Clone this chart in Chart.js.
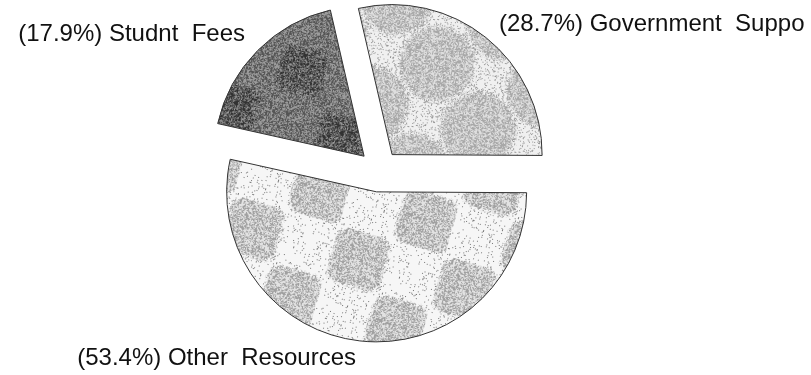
<!DOCTYPE html>
<html>
<head>
<meta charset="utf-8">
<script src="https://cdn.jsdelivr.net/npm/chart.js@4.4.1/dist/chart.umd.min.js"></script>
<style>
  html, body { margin: 0; padding: 0; background: #fff; }
  #wrap { position: relative; width: 811px; height: 375px; }
</style>
</head>
<body>
<div id="wrap"><canvas id="pie"></canvas></div>
<script>
// values
const categories = ['Government  Support', 'Other  Resources', 'Studnt  Fees'];
const shares = [28.7, 53.4, 17.9];

// where each label sits (baseline) - layout only
const labelSpots = [
  { x: 499, y: 31, align: 'left' },
  { x: 356, y: 365, align: 'right' },
  { x: 245, y: 41, align: 'right' }
];
const explode = 21; // px each slice is pulled out

// hash noise so the dither looks the same every run
function grain(x, y, seed) {
  const s = Math.sin(x * 12.9898 + y * 78.233 + seed * 37.719) * 43758.5453;
  return s - Math.floor(s);
}

function tile(size, shade) {
  const c = document.createElement('canvas');
  c.width = size; c.height = size;
  const g = c.getContext('2d');
  const img = g.createImageData(size, size);
  for (let y = 0; y < size; y++) {
    for (let x = 0; x < size; x++) {
      const v = shade(x, y);
      const i = (y * size + x) * 4;
      img.data[i] = img.data[i + 1] = img.data[i + 2] = v;
      img.data[i + 3] = 255;
    }
  }
  g.putImageData(img, 0, 0);
  return c;
}

// soft blob masks
function circleIn(x, y, size, r) {
  let best = 1e9;
  const pts = [[0, 0], [size, 0], [0, size], [size, size], [size / 2, size / 2]];
  pts.forEach(p => { best = Math.min(best, Math.hypot(x - p[0], y - p[1])); });
  return Math.min(1, Math.max(0, (r - best) / 8 + 0.5));
}
function squareIn(x, y, size, half, rad) {
  const q = size / 4;
  let best = 1e9;
  [[q, q], [3 * q, 3 * q]].forEach(p => {
    const dx = Math.max(Math.abs(x - p[0]) - (half - rad), 0);
    const dy = Math.max(Math.abs(y - p[1]) - (half - rad), 0);
    best = Math.min(best, Math.hypot(dx, dy) - rad);
  });
  return Math.min(1, Math.max(0, -best / 6 + 0.5));
}

const ctxMain = document.getElementById('pie').getContext('2d');

function makePattern(canvas, matrix) {
  const p = ctxMain.createPattern(canvas, 'repeat');
  if (p.setTransform) p.setTransform(matrix);
  return p;
}

const govTile = tile(110, (x, y) => {
  const inside = grain(x, y, 7) < circleIn(x, y, 110, 38);
  const n = grain(x, y, 1);
  if (inside) return n < 0.5 ? 168 : 222;
  return n < 0.13 ? 150 : 240;
});
const otherTile = tile(110, (x, y) => {
  const inside = grain(x, y, 9) < squareIn(x, y, 110, 28, 14);
  const n = grain(x, y, 2);
  if (inside) return n < 0.45 ? 160 : 226;
  return n < 0.05 ? 120 : 246;
});
const studTile = tile(110, (x, y) => {
  const inside = grain(x, y, 11) < squareIn(x, y, 110, 22, 10) * 0.7;
  const n = grain(x, y, 3);
  if (inside) return n < 0.6 ? 50 : 125;
  return n < 0.5 ? 85 : 155;
});

const fills = [
  makePattern(govTile, new DOMMatrix().translate(437, 63).rotate(13.5)),
  makePattern(otherTile, new DOMMatrix().translate(358, 259).rotate(16).translate(-27.5, -27.5)),
  makePattern(studTile, new DOMMatrix().translate(302, 70).rotate(16).translate(-27.5, -27.5))
];

// pull every slice out along its middle angle
const explodePlugin = {
  id: 'explode',
  afterDatasetUpdate(chart, args) {
    args.meta.data.forEach(arc => {
      const mid = (arc.startAngle + arc.endAngle) / 2;
      arc.x += Math.cos(mid) * explode;
      arc.y += Math.sin(mid) * explode;
    });
  }
};

const labelPlugin = {
  id: 'sliceLabels',
  afterDraw(chart) {
    const c = chart.ctx;
    c.save();
    c.beginPath();
    c.rect(0, 0, 805, chart.height);
    c.clip();
    c.font = '24px "Liberation Sans", Arial, sans-serif';
    c.fillStyle = '#111';
    c.textBaseline = 'alphabetic';
    shares.forEach((v, i) => {
      const spot = labelSpots[i];
      c.textAlign = spot.align;
      c.fillText('(' + v.toFixed(1) + '%) ' + categories[i], spot.x, spot.y);
    });
    c.restore();
  }
};

new Chart(ctxMain, {
  type: 'pie',
  data: {
    labels: categories,
    datasets: [{
      data: shares,
      backgroundColor: fills,
      borderColor: '#333',
      borderWidth: 1
    }]
  },
  options: {
    responsive: true,
    maintainAspectRatio: false,
    animation: false,
    events: [],
    rotation: -13,
    radius: 150,
    layout: { padding: { left: 0, right: 53, top: 0, bottom: 33 } },
    plugins: {
      legend: { display: false },
      tooltip: { enabled: false }
    }
  },
  plugins: [explodePlugin, labelPlugin]
});
</script>
</body>
</html>
